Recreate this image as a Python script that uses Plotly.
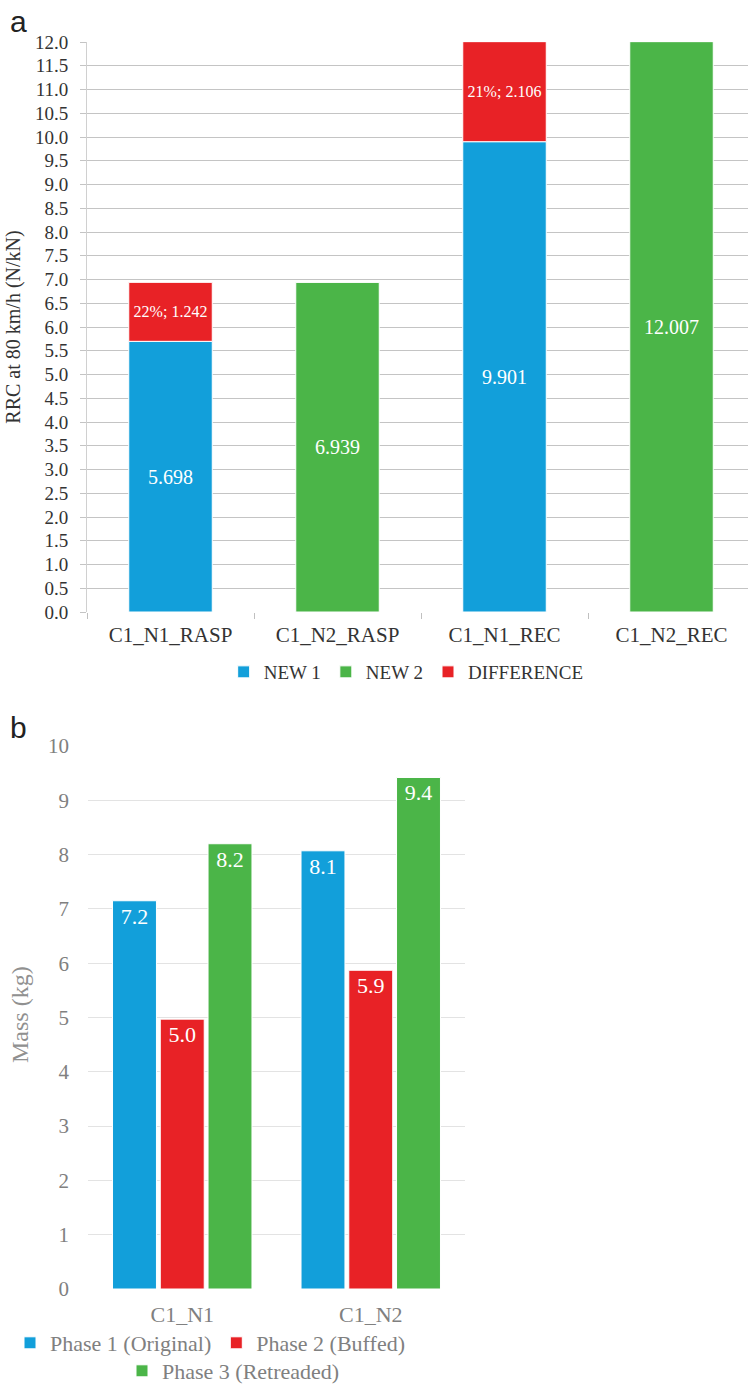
import plotly.graph_objects as go

# ---- Panel a data ----
cats_a = ["C1_N1_RASP", "C1_N2_RASP", "C1_N1_REC", "C1_N2_REC"]
new1 = [5.698, None, 9.901, None]
new2 = [None, 6.939, None, 12.007]
diff = [1.242, None, 2.106, None]
diff_pct = [22, None, 21, None]
yticks_a = [i * 0.5 for i in range(25)]

# ---- Panel b data ----
cats_b = ["C1_N1", "C1_N2"]
phase1 = [7.15, 8.07]
phase2 = [4.97, 5.87]
phase3 = [8.2, 9.42]
labels1 = ["7.2", "8.1"]
labels2 = ["5.0", "5.9"]
labels3 = ["8.2", "9.4"]

BLUE = "#129fda"
GREEN = "#4bb548"
RED = "#e82226"
SERIF = "Liberation Serif, DejaVu Serif, serif"
W, H = 748, 1384

fig = go.Figure()

def fmt(v):
    return "" if v is None else f"{v:.3f}"

fig.add_trace(go.Bar(
    x=cats_a, y=new1, name="NEW 1", marker=dict(color=BLUE, line=dict(color="white", width=1)),
    text=[fmt(v) for v in new1], textposition="inside", insidetextanchor="middle",
    textfont=dict(family=SERIF, size=20, color="white"),
    width=0.5, offset=-0.25, offsetgroup="a", xaxis="x", yaxis="y", legend="legend",
))
fig.add_trace(go.Bar(
    x=cats_a, y=new2, name="NEW 2", marker=dict(color=GREEN, line=dict(color="white", width=1)),
    text=[fmt(v) for v in new2], textposition="inside", insidetextanchor="middle",
    textfont=dict(family=SERIF, size=20, color="white"),
    width=0.5, offset=-0.25, offsetgroup="a", xaxis="x", yaxis="y", legend="legend",
))
fig.add_trace(go.Bar(
    x=cats_a, y=diff, base=[b if b is not None else 0 for b in new1], name="DIFFERENCE",
    marker=dict(color=RED, line=dict(color="white", width=1)),
    text=["" if d is None else f"{p}%; {d:.3f}" for d, p in zip(diff, diff_pct)],
    textposition="inside", insidetextanchor="middle",
    textfont=dict(family=SERIF, size=16, color="white"),
    width=0.5, offset=-0.25, offsetgroup="a", xaxis="x", yaxis="y", legend="legend",
))

for vals, labs, name, col in [(phase1, labels1, "Phase 1 (Original)", BLUE),
                              (phase2, labels2, "Phase 2 (Buffed)", RED),
                              (phase3, labels3, "Phase 3 (Retreaded)", GREEN)]:
    fig.add_trace(go.Bar(
        x=cats_b, y=vals, name=name, marker=dict(color=col, line=dict(color="white", width=1)),
        text=labs, textposition="inside", insidetextanchor="end",
        textfont=dict(family=SERIF, size=22, color="white"),
        xaxis="x2", yaxis="y2",
        legend="legend3" if name.startswith("Phase 3") else "legend2",
    ))

def py(pix):
    return 1 - pix / H

fig.update_layout(
    width=W, height=H, margin=dict(l=0, r=0, t=0, b=0, autoexpand=False),
    paper_bgcolor="white", plot_bgcolor="white",
    barmode="group", bargap=0.24, bargroupgap=0.08,
    font=dict(family=SERIF, color="#333333"),
    xaxis=dict(domain=[87 / W, 1], range=[-0.5, 3.5 - 7 / 167], type="category",
               showgrid=False, ticks="outside", tickson="boundaries", ticklen=6,
               tickcolor="#c0c0c0", showline=False, zeroline=False, automargin=False,
               ticklabelstandoff=8,
               tickfont=dict(family=SERIF, size=21, color="#333333")),
    yaxis=dict(domain=[py(612), py(42)], range=[0, 12], tickvals=yticks_a,
               ticktext=[f"{v:.1f}" for v in yticks_a], showgrid=True, gridcolor="#c4c4c4",
               gridwidth=1, ticks="outside", ticklen=6, tickcolor="#c4c4c4",
               showline=True, linecolor="#d0d0d0", linewidth=1, zeroline=False,
               automargin=False, ticklabelstandoff=8,
               tickfont=dict(family=SERIF, size=19, color="#333333"),
               title=dict(text="RRC at 80 km/h (N/kN)", standoff=8,
                          font=dict(family=SERIF, size=20, color="#333333"))),
    xaxis2=dict(domain=[88 / W, 465 / W], type="category", showgrid=False, ticks="",
                showline=False, zeroline=False, anchor="y2", automargin=False,
                ticklabelstandoff=10,
                tickfont=dict(family=SERIF, size=22, color="#808080")),
    yaxis2=dict(domain=[py(1289), py(746)], range=[0, 10], dtick=1, anchor="x2",
                showgrid=True, gridcolor="#e3e3e3", gridwidth=1, zeroline=False,
                showline=False, ticks="", automargin=False, ticklabelstandoff=18,
                tickfont=dict(family=SERIF, size=21, color="#808080")),
    legend=dict(orientation="h", x=0.543, xanchor="center", y=py(672), yanchor="middle",
                font=dict(family=SERIF, size=19, color="#333333"), itemwidth=30,
                bgcolor="rgba(0,0,0,0)", traceorder="normal"),
    legend2=dict(orientation="h", x=10 / W, xanchor="left", y=py(1343), yanchor="middle",
                 font=dict(family=SERIF, size=22, color="#808080"), itemwidth=30,
                 bgcolor="rgba(0,0,0,0)", traceorder="normal"),
    legend3=dict(orientation="h", x=122 / W, xanchor="left", y=py(1371), yanchor="middle",
                 font=dict(family=SERIF, size=22, color="#808080"), itemwidth=30,
                 bgcolor="rgba(0,0,0,0)"),
    showlegend=True,
    annotations=[
        dict(text="a", x=8 / W, y=py(22), xref="paper", yref="paper", showarrow=False,
             xanchor="left", yanchor="middle",
             font=dict(family="Liberation Sans", size=30, color="#222222")),
        dict(text="b", x=8 / W, y=py(727), xref="paper", yref="paper", showarrow=False,
             xanchor="left", yanchor="middle",
             font=dict(family="Liberation Sans", size=30, color="#222222")),
        dict(text="Mass (kg)", x=20 / W, y=py(1015), xref="paper", yref="paper",
             showarrow=False, textangle=-90, xanchor="center", yanchor="middle",
             font=dict(family=SERIF, size=24, color="#909090")),
    ],
)

fig.write_html("out.html")
